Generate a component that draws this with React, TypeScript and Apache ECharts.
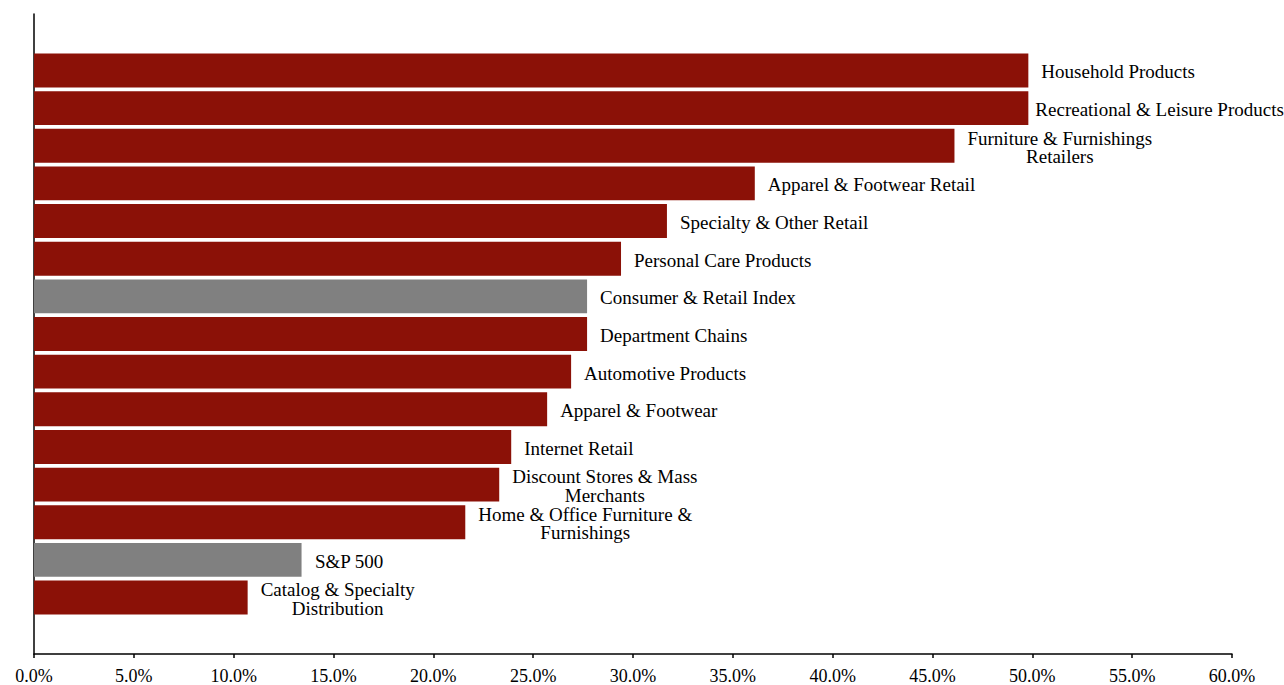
import React, { useEffect, useRef } from "react";
import * as echarts from "echarts";

const categories: string[] = [
  "Household Products",
  "Recreational & Leisure Products",
  "Furniture & Furnishings\nRetailers",
  "Apparel & Footwear Retail",
  "Specialty & Other Retail",
  "Personal Care Products",
  "Consumer & Retail Index",
  "Department Chains",
  "Automotive Products",
  "Apparel & Footwear",
  "Internet Retail",
  "Discount Stores & Mass\nMerchants",
  "Home & Office Furniture &\nFurnishings",
  "S&P 500",
  "Catalog & Specialty\nDistribution",
];

const values: number[] = [
  49.8, 49.8, 46.1, 36.1, 31.7, 29.4, 27.7, 27.7, 26.9, 25.7, 23.9, 23.3, 21.6,
  13.4, 10.7,
];

const benchmarks: string[] = ["Consumer & Retail Index", "S&P 500"];

const xMin = 0;
const xMax = 60;
const xStep = 5;

const RED = "#8B1107";
const GRAY = "#808080";
const FONT = "'Liberation Serif', 'Times New Roman', serif";

export default function App() {
  const ref = useRef<HTMLDivElement>(null);

  useEffect(() => {
    if (!ref.current) return;
    const chart = echarts.init(ref.current, undefined, { renderer: "svg" });

    const paddedCats = ["", ...categories, " "];
    const data: any[] = [
      null,
      ...values.map((v, i) => {
        const name = categories[i];
        const item: any = {
          value: v,
          itemStyle: { color: benchmarks.includes(name) ? GRAY : RED },
        };
        if (name === "Recreational & Leisure Products") {
          item.label = { distance: 7 };
        }
        return item;
      }),
      null,
    ];

    chart.setOption({
      animation: false,
      backgroundColor: "#fff",
      grid: { left: 34, right: 52, top: 14, bottom: 29, containLabel: false },
      xAxis: {
        type: "value",
        min: xMin,
        max: xMax,
        interval: xStep,
        splitLine: { show: false },
        axisLine: { show: true, lineStyle: { color: "#000", width: 1.5 } },
        axisTick: { show: true, length: 4, lineStyle: { color: "#000", width: 1.5 } },
        axisLabel: {
          margin: 13,
          fontFamily: FONT,
          fontSize: 18,
          color: "#000",
          formatter: (v: number) => v.toFixed(1) + "%",
        },
      },
      yAxis: {
        type: "category",
        inverse: true,
        data: paddedCats,
        axisLine: { show: true, lineStyle: { color: "#000", width: 1.5 } },
        axisTick: { show: false },
        axisLabel: { show: false },
        splitLine: { show: false },
      },
      series: [
        {
          type: "bar",
          data,
          barCategoryGap: "10%",
          label: {
            show: true,
            position: "right",
            distance: 13,
            offset: [0, 1.5],
            fontFamily: FONT,
            fontSize: 19,
            color: "#000",
            lineHeight: 18.5,
            formatter: (p: any) =>
              String(p.name)
                .split("\n")
                .map((l) => `{c|${l}}`)
                .join("\n"),
            rich: {
              c: {
                align: "center",
                fontFamily: FONT,
                fontSize: 19,
                color: "#000",
                lineHeight: 18.5,
              },
            },
          },
        },
      ],
    });

    return () => chart.dispose();
  }, []);

  return (
    <div
      ref={ref}
      style={{ position: "fixed", left: 0, top: 0, width: 1284, height: 685 }}
    />
  );
}
